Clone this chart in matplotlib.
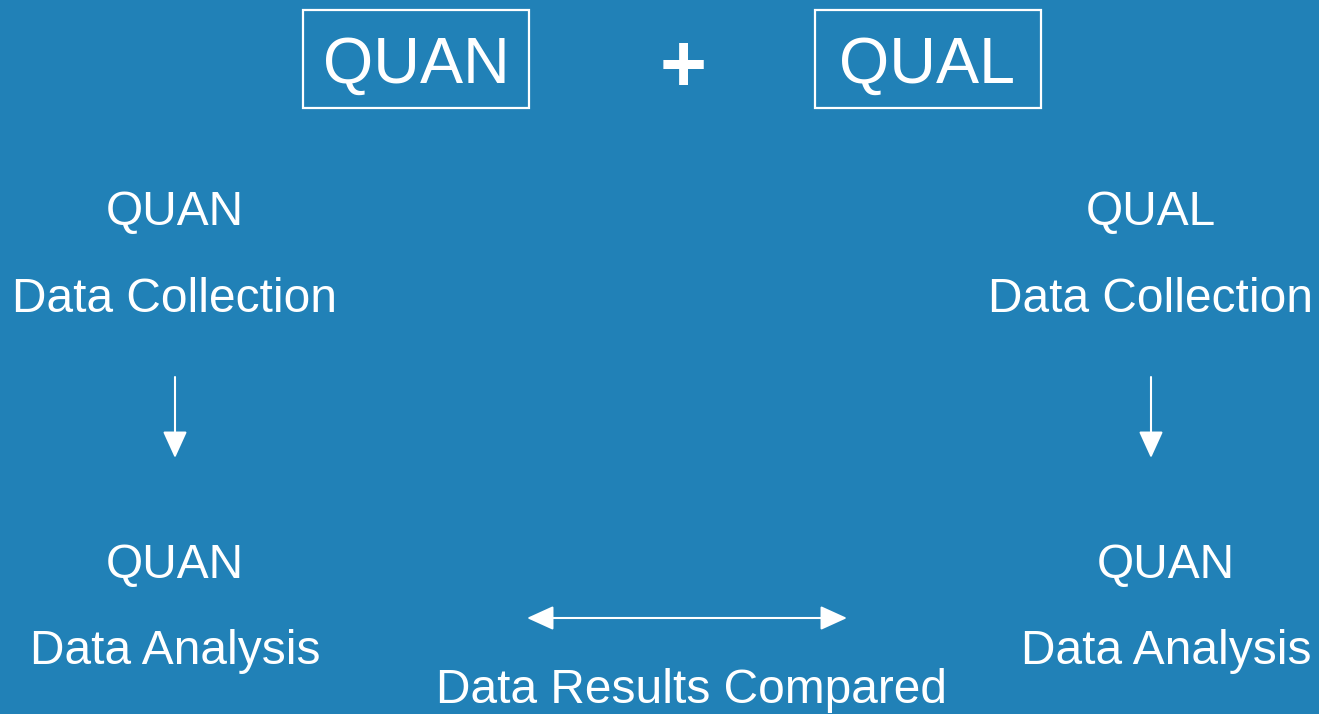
import matplotlib
matplotlib.use("Agg")
import matplotlib.pyplot as plt
from matplotlib.patches import Rectangle

plt.rcParams['font.family'] = ['Liberation Sans', 'DejaVu Sans']

bg = "#2181b7"
fg = "white"

# header boxes
header_labels = ["QUAN", "QUAL"]
header_x = [416, 927]
header_box_left = [303, 815]

# left column (quan strand)
left_labels = ["QUAN", "Data Collection", "QUAN", "Data Analysis"]
left_x = [175, 175, 175, 175]
left_base = [225, 312, 578, 664]

# right column (qual strand)
right_labels = ["QUAL", "Data Collection", "QUAN", "Data Analysis"]
right_x = [1151, 1151, 1166, 1166]
right_base = [225, 312, 578, 664]

bottom_label = "Data Results Compared"

fig = plt.figure(figsize=(13.19, 7.14), dpi=100, facecolor=bg)
ax = fig.add_axes([0, 0, 1, 1])
ax.set_facecolor(bg)
ax.set_xlim(0, 1319)
ax.set_ylim(714, 0)
ax.axis("off")

# top boxes and plus sign
for lab, x, bl in zip(header_labels, header_x, header_box_left):
    ax.add_patch(Rectangle((bl, 10), 226, 98, fill=False, edgecolor=fg, lw=1.6))
    ax.text(x, 83, lab, color=fg, fontsize=46.5, ha="center", va="baseline")
ax.text(683, 91, "+", color=fg, fontsize=58, ha="center", va="baseline",
        fontweight="bold")

for labs, xs, bs in [(left_labels, left_x, left_base),
                     (right_labels, right_x, right_base)]:
    for lab, x, b in zip(labs, xs, bs):
        ax.text(x, b, lab, color=fg, fontsize=34.5, ha="center", va="baseline")

# down arrows
arr = dict(arrowstyle="-|>,head_length=1.1,head_width=0.5", color=fg, lw=1.5,
           shrinkA=0, shrinkB=0, mutation_scale=15)
for x in [175, 1151]:
    ax.annotate("", xy=(x, 458), xytext=(x, 377), arrowprops=arr)

# double arrow
dbl = dict(arrowstyle="<|-|>,head_length=1.1,head_width=0.5", color=fg, lw=1.5,
           shrinkA=0, shrinkB=0, mutation_scale=15)
ax.annotate("", xy=(847, 618), xytext=(527, 618), arrowprops=dbl)

ax.text(691, 703, bottom_label, color=fg, fontsize=34.5, ha="center",
        va="baseline")

fig.savefig("out.png", dpi=100, facecolor=bg)
